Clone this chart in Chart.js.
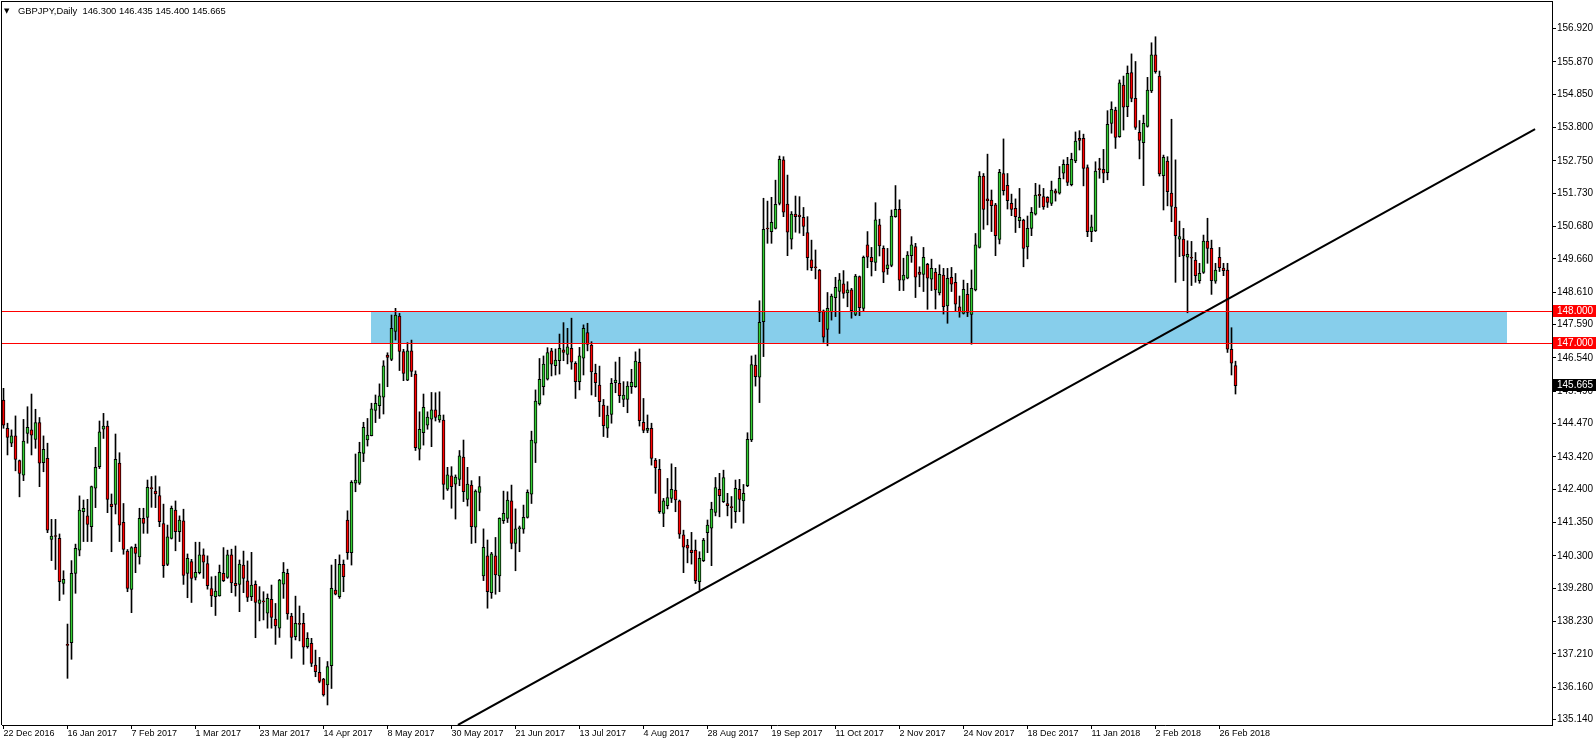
<!DOCTYPE html>
<html>
<head>
<title>GBPJPY Daily</title>
<style>
    body { margin: 0; background: #ffffff; }
    #chartWrapper { width: 1596px; height: 744px; }
</style>
<script src="https://cdn.jsdelivr.net/npm/chart.js"></script>
</head>
<body>
<div id="chartWrapper"><canvas id="priceChart" width="1596" height="744"></canvas></div>
<script>
// GBPJPY daily candles, 22 Dec 2016 .. 1 Mar 2018
const symbolName = "GBPJPY,Daily";

const opens = [
    145.21, 144.32, 143.85, 144.08, 143.30, 142.84, 144.16, 144.27, 143.97, 144.50,
    143.24, 143.37, 140.82, 140.92, 140.85, 139.43, 137.49, 137.56, 139.75, 140.48,
    141.69, 141.56, 141.22, 142.43, 143.11, 144.29, 144.39, 141.93, 141.92, 143.22,
    141.36, 140.45, 139.24, 140.57, 140.27, 141.48, 141.51, 142.43, 142.34, 142.20,
    141.32, 140.03, 140.85, 141.74, 141.06, 141.40, 139.75, 140.12, 139.62, 139.77,
    140.33, 140.06, 139.27, 139.01, 139.04, 139.75, 139.62, 140.33, 139.43, 139.40,
    140.01, 139.51, 139.01, 139.40, 138.80, 138.86, 138.49, 138.93, 138.31, 138.02,
    139.41, 139.75, 138.40, 137.75, 138.15, 138.17, 137.44, 137.54, 136.86, 136.63,
    136.42, 136.23, 136.84, 139.22, 139.01, 140.03, 141.43, 140.40, 142.59, 142.59,
    143.53, 143.95, 144.09, 144.88, 145.03, 145.30, 146.63, 146.49, 147.37, 147.86,
    146.74, 145.84, 146.76, 146.03, 143.66, 144.18, 144.42, 144.61, 144.90, 144.58,
    144.58, 142.40, 142.82, 142.56, 142.71, 143.41, 142.08, 142.53, 141.20, 142.30,
    139.67, 140.30, 139.14, 140.30, 139.67, 141.41, 141.48, 142.03, 140.69, 141.16,
    141.14, 141.51, 142.24, 143.85, 145.09, 145.63, 145.87, 146.76, 146.29, 146.45,
    146.79, 146.65, 146.84, 146.37, 145.79, 146.53, 147.34, 146.94, 146.05, 145.68,
    145.05, 144.32, 144.76, 145.76, 145.74, 145.23, 145.23, 145.63, 145.63, 146.40,
    144.51, 144.25, 144.32, 143.32, 143.03, 141.64, 141.88, 142.11, 142.37, 142.03,
    140.96, 140.64, 140.48, 140.48, 139.49, 140.15, 141.03, 141.17, 141.67, 142.40,
    142.01, 141.95, 141.83, 141.69, 142.40, 142.03, 142.51, 143.95, 146.31, 145.93,
    147.68, 150.61, 150.52, 150.62, 151.41, 152.78, 151.39, 150.28, 151.07, 151.04,
    150.97, 150.49, 149.63, 149.39, 149.31, 148.02, 147.44, 147.99, 148.44, 148.63,
    148.87, 148.59, 148.68, 147.91, 149.10, 148.10, 150.10, 149.71, 149.55, 150.73,
    149.99, 149.35, 149.45, 150.99, 151.22, 148.99, 149.05, 149.76, 150.05, 149.24,
    149.17, 149.49, 149.02, 149.24, 148.59, 149.15, 148.18, 149.08, 148.92, 148.15,
    147.94, 148.54, 147.91, 148.68, 150.02, 152.27, 151.55, 151.51, 151.36, 150.27,
    152.35, 151.98, 151.41, 151.25, 150.86, 150.88, 150.04, 150.62, 151.07, 151.69,
    151.62, 151.60, 151.41, 151.80, 151.73, 152.36, 152.64, 152.00, 152.75, 153.46,
    153.46, 152.54, 150.52, 150.54, 152.48, 152.48, 152.38, 153.93, 154.35, 153.51,
    155.14, 154.46, 155.53, 154.72, 153.65, 153.32, 153.83, 154.95, 156.09, 155.42,
    152.28, 152.74, 151.73, 151.29, 150.28, 150.28, 149.71, 149.71, 149.62, 148.97,
    149.23, 150.22, 149.99, 148.96, 149.71, 149.37, 149.31, 146.81, 146.300
];

const highs = [
    145.58, 144.48, 144.27, 144.71, 143.32, 144.60, 145.00, 145.40, 144.92, 144.66,
    144.08, 143.85, 141.45, 141.45, 140.99, 139.83, 138.15, 140.15, 140.67, 142.19,
    142.06, 142.08, 142.50, 143.72, 144.55, 144.79, 144.55, 142.25, 144.14, 143.55,
    141.95, 140.50, 140.59, 140.67, 141.80, 141.80, 142.69, 142.80, 142.82, 142.48,
    141.93, 141.27, 141.87, 142.03, 141.56, 141.77, 140.36, 140.19, 140.73, 140.73,
    140.52, 140.30, 139.64, 139.66, 140.01, 140.56, 140.48, 140.51, 140.61, 140.17,
    140.45, 140.14, 140.41, 139.51, 139.33, 139.17, 139.10, 139.38, 138.80, 139.56,
    140.09, 139.88, 138.49, 139.03, 138.72, 138.49, 137.88, 137.70, 137.33, 137.10,
    136.44, 136.97, 140.01, 140.19, 140.33, 140.17, 141.72, 142.67, 143.51, 143.88,
    144.51, 144.63, 145.11, 145.37, 145.72, 146.45, 146.70, 147.89, 148.10, 147.94,
    146.81, 147.02, 147.10, 146.13, 144.84, 145.40, 144.84, 145.45, 145.44, 145.47,
    144.74, 143.09, 143.11, 142.85, 143.62, 143.95, 143.09, 142.67, 142.38, 142.80,
    141.15, 140.80, 140.41, 140.88, 141.50, 142.34, 142.32, 142.53, 141.78, 141.24,
    141.90, 142.38, 144.23, 145.53, 146.52, 146.60, 146.86, 146.84, 146.82, 147.29,
    147.65, 147.47, 147.79, 146.42, 146.87, 147.58, 147.63, 147.05, 146.34, 146.28,
    145.23, 145.02, 145.89, 146.41, 146.56, 145.79, 145.79, 146.18, 146.73, 146.82,
    145.26, 144.74, 144.48, 143.37, 143.34, 142.11, 142.74, 143.20, 143.09, 142.06,
    141.11, 140.82, 141.04, 140.80, 140.43, 140.85, 141.43, 141.99, 142.77, 142.90,
    143.00, 142.27, 142.17, 142.69, 142.71, 142.55, 144.18, 146.60, 146.63, 148.34,
    151.57, 151.48, 151.60, 152.14, 152.90, 152.88, 152.30, 151.15, 151.64, 151.62,
    151.28, 150.99, 150.25, 149.94, 149.33, 148.05, 148.60, 148.55, 149.08, 149.20,
    149.29, 148.94, 148.73, 149.17, 149.12, 149.75, 150.52, 150.02, 151.43, 150.91,
    150.07, 149.99, 151.20, 151.97, 151.52, 149.68, 149.89, 150.36, 150.15, 149.41,
    150.02, 149.52, 149.65, 149.36, 149.47, 149.36, 149.36, 149.39, 149.20, 148.49,
    148.99, 148.89, 149.31, 150.46, 152.41, 152.35, 152.96, 151.83, 151.41, 152.48,
    153.44, 152.35, 151.70, 151.55, 151.88, 150.91, 151.01, 151.28, 152.04, 151.99,
    151.88, 151.62, 152.11, 151.86, 152.57, 152.78, 152.86, 152.99, 153.66, 153.70,
    153.59, 152.62, 151.04, 152.72, 152.83, 153.11, 154.33, 154.61, 154.44, 155.30,
    155.42, 155.74, 156.12, 155.88, 154.02, 154.19, 155.38, 156.47, 156.66, 155.58,
    152.93, 152.88, 154.06, 152.78, 150.85, 150.62, 150.23, 150.21, 149.86, 149.52,
    150.41, 150.94, 150.25, 149.52, 150.02, 149.52, 149.52, 147.49, 146.435
];

const lows = [
    144.32, 143.48, 143.74, 142.98, 142.16, 142.67, 143.85, 143.48, 143.69, 142.48,
    142.95, 141.03, 140.15, 139.87, 138.89, 139.09, 136.44, 137.04, 139.12, 140.30,
    140.75, 140.75, 140.75, 141.82, 143.05, 144.00, 141.66, 140.43, 141.62, 140.75,
    140.35, 139.17, 138.51, 139.77, 140.04, 141.01, 141.01, 141.83, 141.82, 141.22,
    139.62, 139.99, 140.83, 140.46, 140.75, 139.40, 138.98, 138.83, 139.54, 139.73,
    139.59, 139.25, 138.70, 138.42, 139.03, 139.49, 139.59, 139.14, 139.03, 138.54,
    139.14, 138.86, 138.89, 137.72, 138.25, 138.28, 138.02, 138.02, 137.51, 137.73,
    138.96, 138.30, 137.07, 137.65, 137.62, 136.88, 137.39, 136.81, 136.49, 136.30,
    135.88, 135.60, 136.12, 139.07, 138.96, 139.17, 140.19, 140.01, 142.32, 142.55,
    143.27, 143.76, 144.08, 144.50, 144.63, 144.77, 145.63, 146.45, 147.10, 146.14,
    145.82, 145.82, 145.95, 143.62, 143.32, 143.79, 144.29, 143.74, 144.55, 144.51,
    142.08, 142.36, 141.80, 141.46, 142.51, 142.01, 141.87, 140.69, 140.71, 141.72,
    139.52, 138.65, 138.96, 139.09, 139.17, 141.32, 141.35, 140.52, 139.83, 140.43,
    141.01, 141.49, 141.95, 143.24, 145.05, 145.37, 145.84, 145.97, 146.00, 146.03,
    146.45, 146.35, 146.18, 145.26, 145.53, 146.00, 146.76, 145.37, 145.32, 144.69,
    144.06, 144.03, 144.48, 145.44, 145.13, 145.00, 144.81, 145.42, 145.61, 144.39,
    144.18, 144.18, 143.16, 142.27, 141.64, 141.22, 141.78, 141.98, 141.69, 140.85,
    139.77, 140.08, 140.04, 139.43, 139.22, 140.12, 140.40, 139.99, 141.56, 141.53,
    141.98, 141.56, 141.17, 141.35, 141.69, 141.33, 142.48, 143.90, 145.65, 145.13,
    146.58, 150.15, 150.15, 150.60, 151.36, 150.99, 149.76, 149.97, 150.50, 150.47,
    150.39, 149.31, 149.29, 149.03, 147.68, 147.03, 146.92, 147.73, 147.84, 147.31,
    148.42, 148.15, 147.79, 147.87, 147.87, 148.02, 149.38, 149.12, 149.29, 149.75,
    148.91, 149.17, 149.41, 150.97, 148.66, 148.66, 149.03, 149.55, 148.44, 148.78,
    148.63, 148.07, 148.66, 148.08, 148.52, 147.92, 147.63, 148.63, 148.02, 147.82,
    147.92, 147.84, 146.97, 148.65, 150.00, 150.59, 150.73, 150.52, 149.76, 150.13,
    151.67, 151.23, 151.02, 150.49, 150.64, 149.41, 149.66, 150.39, 151.04, 151.28,
    151.22, 151.28, 151.34, 151.48, 151.70, 152.18, 151.97, 151.96, 152.69, 153.09,
    151.96, 150.36, 150.20, 150.52, 152.20, 152.06, 152.15, 153.62, 153.14, 153.49,
    153.72, 154.14, 154.61, 153.74, 152.81, 151.97, 153.81, 154.90, 155.51, 152.27,
    151.20, 151.33, 150.83, 148.92, 149.73, 148.97, 147.96, 148.82, 148.92, 148.89,
    149.20, 149.52, 148.54, 148.89, 149.26, 149.13, 146.71, 146.00, 145.400
];

const closes = [
    144.42, 144.03, 144.08, 143.34, 142.90, 143.92, 144.35, 144.10, 144.50, 143.22,
    143.66, 141.11, 140.92, 140.91, 139.49, 139.56, 137.48, 139.75, 140.54, 141.74,
    141.80, 141.29, 142.48, 143.09, 144.21, 144.39, 142.08, 141.85, 143.34, 141.27,
    140.50, 139.27, 140.56, 140.38, 141.48, 141.32, 142.46, 142.42, 142.25, 141.38,
    139.99, 140.90, 141.80, 141.06, 141.43, 139.68, 140.22, 139.59, 139.78, 140.33,
    140.10, 139.36, 139.04, 139.19, 139.78, 139.52, 140.33, 139.45, 139.36, 140.04,
    139.59, 138.99, 139.38, 138.83, 138.91, 138.85, 138.96, 138.36, 138.09, 139.54,
    139.78, 138.47, 137.73, 138.17, 138.14, 137.42, 137.70, 136.91, 136.65, 136.34,
    135.92, 136.81, 139.28, 139.09, 140.03, 139.64, 140.40, 142.62, 142.69, 143.56,
    144.35, 144.11, 144.93, 145.11, 145.34, 146.29, 146.55, 147.47, 147.89, 146.74,
    146.05, 146.76, 146.11, 143.71, 144.29, 144.98, 144.67, 144.90, 144.66, 144.74,
    142.55, 142.85, 142.48, 142.78, 143.45, 142.32, 142.56, 141.22, 142.34, 142.48,
    140.57, 139.17, 140.36, 139.70, 141.48, 141.64, 142.06, 140.69, 141.15, 141.17,
    141.51, 142.30, 143.95, 145.18, 145.86, 146.34, 146.71, 146.34, 146.47, 146.84,
    146.71, 146.89, 146.40, 145.79, 146.60, 147.47, 146.96, 146.10, 145.76, 145.16,
    144.40, 144.74, 145.74, 145.84, 145.35, 145.37, 145.65, 145.77, 146.44, 144.56,
    144.25, 144.32, 143.37, 143.08, 141.69, 142.03, 142.14, 142.40, 142.06, 140.98,
    140.57, 140.54, 140.40, 139.52, 140.22, 140.80, 141.27, 141.77, 142.45, 142.20,
    142.77, 141.88, 141.82, 142.43, 142.08, 142.27, 143.97, 146.33, 145.95, 147.66,
    150.59, 150.60, 150.81, 151.38, 152.80, 151.13, 150.50, 151.07, 150.99, 150.99,
    150.68, 149.70, 149.38, 149.38, 147.97, 147.19, 148.10, 148.49, 148.76, 149.00,
    148.57, 148.68, 148.03, 149.12, 148.12, 149.71, 149.71, 149.57, 150.89, 150.07,
    149.24, 149.47, 151.01, 151.22, 148.99, 149.15, 149.78, 150.10, 149.08, 149.17,
    149.71, 149.05, 149.36, 148.68, 149.17, 148.15, 149.05, 148.86, 148.23, 147.99,
    148.70, 147.97, 148.73, 150.10, 152.27, 151.22, 151.49, 151.34, 150.39, 152.39,
    151.81, 151.49, 151.22, 150.99, 150.97, 149.99, 150.62, 151.13, 151.67, 151.65,
    151.30, 151.44, 151.83, 151.73, 152.20, 152.64, 152.07, 152.80, 153.37, 153.39,
    152.51, 150.52, 150.67, 152.43, 152.47, 152.36, 153.90, 154.37, 153.49, 155.21,
    154.44, 155.51, 154.72, 153.80, 153.39, 153.93, 154.98, 156.09, 155.56, 152.34,
    152.86, 151.78, 151.31, 150.39, 150.36, 149.75, 149.80, 149.68, 149.13, 149.20,
    150.22, 149.99, 148.97, 149.31, 149.38, 149.29, 146.81, 146.37, 145.665
];

// time axis: a label every 16 bars
const dateLabels = [
    "22 Dec 2016", "16 Jan 2017", "7 Feb 2017", "1 Mar 2017", "23 Mar 2017",
    "14 Apr 2017", "8 May 2017", "30 May 2017", "21 Jun 2017", "13 Jul 2017",
    "4 Aug 2017", "28 Aug 2017", "19 Sep 2017", "11 Oct 2017", "2 Nov 2017",
    "24 Nov 2017", "18 Dec 2017", "11 Jan 2018", "2 Feb 2018", "26 Feb 2018"
];
const labelStep = 16;

// price axis labels as MT4 prints them
const priceTicks = [
    156.920, 155.870, 154.850, 153.800, 152.750, 151.730, 150.680, 149.660,
    148.610, 147.590, 146.540, 145.490, 144.470, 143.420, 142.400, 141.350,
    140.300, 139.280, 138.230, 137.210, 136.160, 135.140
];

// drawn objects
const levels = [148.000, 147.000];
const zoneBars = [91.9, 375.8];
const trendStart = [113.6, 134.97];
const trendEnd = [382.9, 153.75];

const bullColor = "#32cd32";
const bearColor = "#ff0000";
const zoneColor = "#87ceeb";

const lastBar = opens.length - 1;
const lastClose = closes[lastBar];

const bodyData = opens.map((o, i) => ({ x: i, y: [o, closes[i]] }));
const wickData = opens.map((o, i) => ({ x: i, y: [lows[i], highs[i]] }));
const bodyColors = opens.map((o, i) => closes[i] >= o ? bullColor : bearColor);

// pixel row used by MT4 for a price level
const levelRow = (chart, p) => Math.round(chart.scales.y.getPixelForValue(p) - 0.6);

function axisTag(chart, price, text, bg) {
    const ctx = chart.ctx;
    const yPix = levelRow(chart, price);
    const left = chart.chartArea.right + 1;
    ctx.fillStyle = bg;
    ctx.fillRect(left, yPix - 6, chart.width - left, 12);
    ctx.fillStyle = "#ffffff";
    ctx.font = '10px "Liberation Sans"';
    ctx.textAlign = "left";
    ctx.textBaseline = "middle";
    ctx.fillText(text, chart.chartArea.right + 5, yPix + 0.5);
}

const mtPlugin = {
    id: "mtObjects",
    beforeDatasetsDraw(chart) {
        const { ctx, scales: { x } } = chart;
        const l = Math.round(x.getPixelForValue(zoneBars[0]));
        const r = Math.round(x.getPixelForValue(zoneBars[1]));
        const t = levelRow(chart, levels[0]);
        const b = levelRow(chart, levels[1]);
        ctx.save();
        ctx.fillStyle = zoneColor;
        ctx.fillRect(l, t, r - l, b - t);
        ctx.restore();
    },
    afterDatasetsDraw(chart) {
        const { ctx, chartArea } = chart;
        ctx.save();
        ctx.fillStyle = "#ff0000";
        levels.forEach(p => {
            ctx.fillRect(chartArea.left, levelRow(chart, p), chartArea.right - chartArea.left, 1);
        });
        ctx.restore();
    },
    afterDraw(chart) {
        const { ctx, chartArea } = chart;
        ctx.save();
        // window frame (top and left)
        ctx.fillStyle = "#000000";
        ctx.fillRect(chartArea.left - 1, 1, 1, chartArea.bottom - 1);
        ctx.fillRect(chartArea.left - 1, 1, chartArea.right - chartArea.left + 2, 1);

        axisTag(chart, levels[0], levels[0].toFixed(3), "#ff0000");
        axisTag(chart, levels[1], levels[1].toFixed(3), "#ff0000");
        axisTag(chart, lastClose, lastClose.toFixed(3), "#000000");

        // header
        ctx.fillStyle = "#000000";
        ctx.textBaseline = "middle";
        ctx.textAlign = "left";
        ctx.font = '7px "DejaVu Sans"';
        ctx.fillText("\u25BC", 4, 11);
        ctx.font = '9.4px "Liberation Sans"';
        const ohlc = [opens[lastBar], highs[lastBar], lows[lastBar], closes[lastBar]]
            .map(v => v.toFixed(3)).join(" ");
        ctx.fillText(symbolName + "  " + ohlc, 18, 11);
        ctx.restore();
    }
};

const chartHTML = document.getElementById("priceChart");
new Chart(chartHTML, {
    type: "bar",
    data: {
        datasets: [
            {
                type: "line",
                data: [{ x: trendStart[0], y: trendStart[1] }, { x: trendEnd[0], y: trendEnd[1] }],
                borderColor: "#000000",
                borderWidth: 2,
                pointRadius: 0,
                order: 0
            },
            {
                data: bodyData,
                backgroundColor: bodyColors,
                borderColor: "#000000",
                borderWidth: 1,
                borderSkipped: false,
                barThickness: 3,
                minBarLength: 1,
                order: 1
            },
            {
                data: wickData,
                backgroundColor: "#000000",
                borderWidth: 0,
                barThickness: 1,
                order: 2
            }
        ]
    },
    options: {
        responsive: false,
        animation: false,
        events: [],
        layout: { padding: { left: 2, top: 2, right: 0, bottom: 0 } },
        plugins: { legend: { display: false }, tooltip: { enabled: false } },
        scales: {
            x: {
                type: "linear",
                stacked: true,
                offset: false,
                min: -0.375,
                max: 387.125,
                afterBuildTicks: s => { s.ticks = dateLabels.map((_, i) => ({ value: i * labelStep })); },
                afterFit: s => { s.height = 19; s.paddingLeft = 0; s.paddingRight = 0; },
                ticks: {
                    autoSkip: false,
                    maxRotation: 0,
                    align: "start",
                    padding: -1,
                    color: "#000000",
                    font: { family: "Liberation Sans", size: 9 },
                    callback: (v, i) => dateLabels[i]
                },
                grid: { drawOnChartArea: false, offset: false, tickLength: 4, color: "#000000" },
                border: { color: "#000000" }
            },
            y: {
                position: "right",
                stacked: false,
                min: 134.969,
                max: 157.755,
                afterBuildTicks: s => { s.ticks = priceTicks.map(v => ({ value: v })); },
                afterFit: s => { s.width = 44; s.paddingTop = 0; s.paddingBottom = 0; },
                ticks: {
                    padding: 1,
                    color: "#000000",
                    font: { family: "Liberation Sans", size: 10 },
                    callback: v => v.toFixed(3)
                },
                grid: { drawOnChartArea: false, tickLength: 4, color: "#000000" },
                border: { color: "#000000" }
            }
        }
    },
    plugins: [mtPlugin]
});
</script>
</body>
</html>
